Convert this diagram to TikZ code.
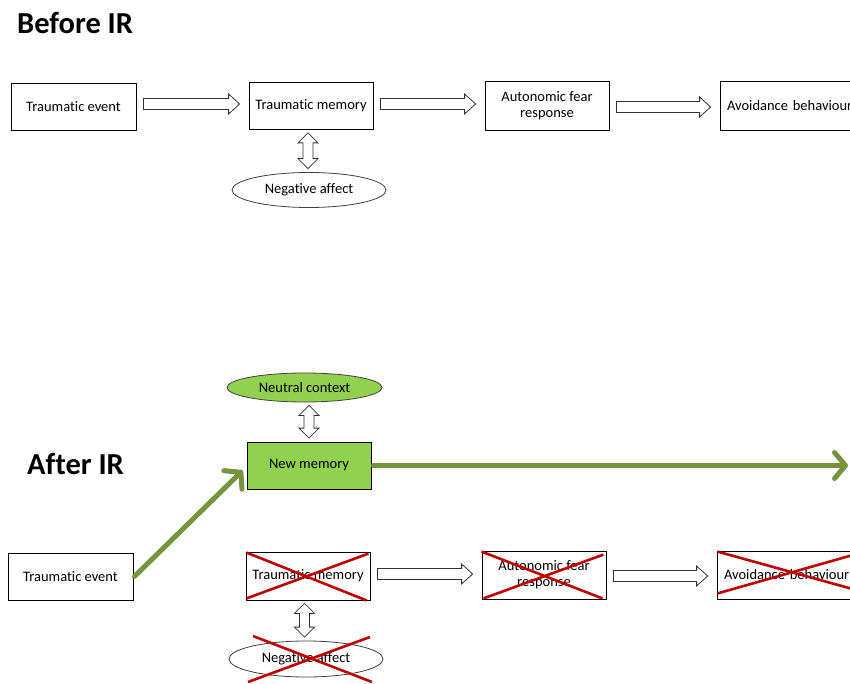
\documentclass[tikz,border=0pt]{standalone}
\usepackage{fontspec}
\setmainfont[Ligatures=NoCommon]{Carlito}
\usetikzlibrary{calc,shapes.geometric,arrows.meta}
\definecolor{lgreen}{HTML}{92D050}
\definecolor{dgreen}{HTML}{77933C}
\definecolor{xred}{HTML}{C00000}
\tikzset{
  box/.style={draw=black,line width=0.8pt,minimum height=47pt,inner sep=2pt,font=\fontsize{14.5}{16}\selectfont,align=center},
  oval/.style={ellipse,draw=black!75,line width=0.8pt,inner sep=0pt,font=\fontsize{14.5}{16}\selectfont},
  hollow/.style={draw=black!80,fill=white,line width=0.8pt,line join=miter},
  greenarrow/.style={dgreen,line width=5pt,line cap=round,-{Straight Barb[length=11pt,width=26pt,line cap=round,line join=round]}},
  cross/.style={xred,line width=2.6pt},
  title/.style={font=\bfseries\fontsize{30.5}{34}\selectfont,anchor=west,inner sep=0pt}
}
\newcommand\harrow[3]{%
  \draw[hollow] let \p1=($(#1.east)+(7pt,#3)$), \p2=($(#2.west)+(-9pt,#3)$) in
    (\x1,{\y1+5.5pt}) -- ({\x2-11pt},{\y1+5.5pt}) -- ({\x2-11pt},{\y1+10pt}) -- (\x2,\y1)
    -- ({\x2-11pt},{\y1-10pt}) -- ({\x2-11pt},{\y1-5.5pt}) -- (\x1,{\y1-5.5pt}) -- cycle;}
\newcommand\vdarrow[3]{%
  \draw[hollow] let \p1=($(#1.south)+(#3,-3pt)$), \p2=($(#2.north)+(#3,3.5pt)$) in
    (\x1,\y1) -- ({\x1+10pt},{\y1-10pt}) -- ({\x1+5pt},{\y1-10pt}) -- ({\x1+5pt},{\y2+10pt})
    -- ({\x1+10pt},{\y2+10pt}) -- (\x1,\y2) -- ({\x1-10pt},{\y2+10pt}) -- ({\x1-5pt},{\y2+10pt})
    -- ({\x1-5pt},{\y1-10pt}) -- ({\x1-10pt},{\y1-10pt}) -- cycle;}
\begin{document}
\begin{tikzpicture}[x=1pt,y=-1pt]
\clip (0,0) rectangle (850,684);
\fill[white] (0,0) rectangle (850,684);

% ---------- Before IR ----------
\node[title] (t1) at (17,23) {Before IR};
\node[box,minimum width=125pt] (te1) at (73.5,106.5) {Traumatic event};
\node[box,minimum width=124pt] (tm1) at (311,106) {Traumatic memory};
\node[box,minimum width=124pt,minimum height=49pt] (af1) at (547,105.5) {Autonomic fear\\response};
\node[box,minimum width=150pt,minimum height=49pt,text width=136pt,align=left] (ab1) at (795,105.5) {Avoidance behaviour};
\node[oval,minimum width=154pt,minimum height=35pt] (na1) at (309,190) {Negative affect};
\harrow{te1}{tm1}{2.5pt}
\harrow{tm1}{af1}{2pt}
\harrow{af1}{ab1}{-1.5pt}
\vdarrow{tm1}{na1}{-3pt}

% ---------- After IR ----------
\node[title] (t2) at (27,464) {After IR};
\node[oval,fill=lgreen,minimum width=155pt,minimum height=29pt] (nc) at (304.5,387.5) {Neutral context};
\node[box,fill=lgreen,minimum width=124pt] (nm) at (309,465.5) {New memory};
\node[box,minimum width=125pt] (te2) at (70.5,576.5) {Traumatic event};
\node[box,minimum width=124pt,minimum height=48pt] (tm2) at (308,576) {Traumatic memory};
\node[box,minimum width=124pt,minimum height=48pt] (af2) at (544,575) {Autonomic fear\\response};
\node[box,minimum width=151pt,minimum height=48pt,text width=137pt,align=left] (ab2) at (792.5,575) {Avoidance behaviour};
\node[oval,minimum width=154pt,minimum height=36pt] (na2) at (306,659) {Negative affect};

\vdarrow{nc}{nm}{4.5pt}
\harrow{tm2}{af2}{2pt}
\harrow{af2}{ab2}{-1pt}
\vdarrow{tm2}{na2}{-3.5pt}

\coordinate (gend) at (848,465.5);
\coordinate (dend) at ($(nm.west)+(-4pt,-5pt)$);
\draw[greenarrow] ($(nm.east)+(2pt,0)$) -- (gend);
\draw[greenarrow] ($(te2.east)+(1pt,0)$) -- (dend);

% red crosses
\draw[cross] ($(tm2.north west)+(1pt,-1pt)$) -- ($(tm2.south east)+(-4pt,0)$);
\draw[cross] ($(tm2.south west)+(1pt,2pt)$) -- ($(tm2.north east)+(-2pt,-2pt)$);
\draw[cross] ($(af2.north west)+(0,-1pt)$) -- ($(af2.south east)+(-4pt,1pt)$);
\draw[cross] ($(af2.south west)+(2pt,1pt)$) -- ($(af2.north east)+(-3pt,-4pt)$);
\draw[cross] ($(ab2.north west)+(1pt,-1pt)$) -- ($(ab2.south east)+(0,6pt)$);
\draw[cross] ($(ab2.south west)+(1pt,6pt)$) -- ($(ab2.north east)+(0,0)$);
\draw[cross] ($(na2.center)+(-53pt,23pt)$) -- ($(na2.center)+(66pt,-23pt)$);
\draw[cross] ($(na2.center)+(-58pt,-23pt)$) -- ($(na2.center)+(64pt,22pt)$);
\end{tikzpicture}
\end{document}
